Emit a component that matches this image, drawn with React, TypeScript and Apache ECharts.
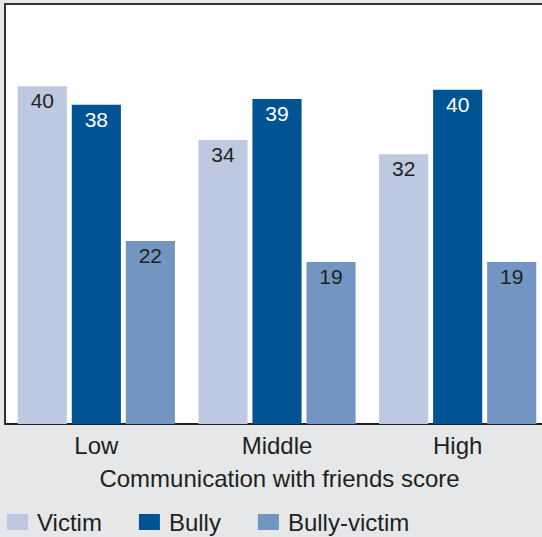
import React, { useEffect, useRef } from "react";
import * as echarts from "echarts";

const categories = ["Low", "Middle", "High"];
const seriesNames = ["Victim", "Bully", "Bully-victim"];
const victim = [40.2, 33.8, 32.1];
const bully = [38.0, 38.7, 39.8];
const bullyVictim = [21.8, 19.3, 19.3];
const colors = ["#bdc9e1", "#005494", "#7295c2"];
const labelColors = ["#231f20", "#ffffff", "#231f20"];
const axisName = "Communication with friends score";

export default function App() {
  const ref = useRef<HTMLDivElement>(null);
  useEffect(() => {
    if (!ref.current) return;
    const chart = echarts.init(ref.current, null, { renderer: "svg" });
    const font = "'Liberation Sans', Arial, Helvetica, sans-serif";
    const values = [victim, bully, bullyVictim];
    chart.setOption({
      animation: false,
      backgroundColor: "#e6e7e8",
      textStyle: { fontFamily: font },
      graphic: [
        {
          type: "rect",
          z: -10,
          shape: { x: 5, y: 4, width: 570, height: 420 },
          style: { fill: "#ffffff", stroke: "#333333", lineWidth: 2 },
        },
      ],
      grid: { left: 6, top: 4, width: 542, height: 420, containLabel: false },
      xAxis: {
        type: "category",
        data: categories,
        axisLine: { show: true, lineStyle: { color: "#231f20", width: 2 } },
        axisTick: { show: false },
        axisLabel: { color: "#231f20", fontSize: 24, margin: 9, fontFamily: font },
        name: axisName,
        nameLocation: "middle",
        nameGap: 42,
        nameTextStyle: { color: "#231f20", fontSize: 24, fontFamily: font, padding: [0, 0, 0, 5] },
      },
      yAxis: {
        type: "value",
        min: 0,
        max: 50,
        show: false,
        splitLine: { show: false },
      },
      legend: {
        left: 7,
        top: 510,
        padding: 0,
        itemWidth: 21,
        itemHeight: 16,
        itemGap: 37,
        icon: "rect",
        data: seriesNames,
        textStyle: { color: "#231f20", fontSize: 24, lineHeight: 24, fontFamily: font, padding: [0, 0, 0, 4] },
      },
      series: seriesNames.map((name, i) => ({
        name,
        type: "bar",
        data: values[i],
        barCategoryGap: "13%",
        barGap: "10%",
        itemStyle: { color: colors[i] },
        label: {
          show: true,
          position: "insideTop",
          distance: 4,
          color: labelColors[i],
          fontSize: 21,
          fontFamily: font,
          formatter: (p: any) => String(Math.round(p.value)),
        },
      })),
    });
    return () => chart.dispose();
  }, []);
  return (
    <div style={{ width: 542, height: 537, position: "absolute", left: 0, top: 0, overflow: "hidden" }}>
      <div ref={ref} style={{ width: 570, height: 537 }} />
    </div>
  );
}
